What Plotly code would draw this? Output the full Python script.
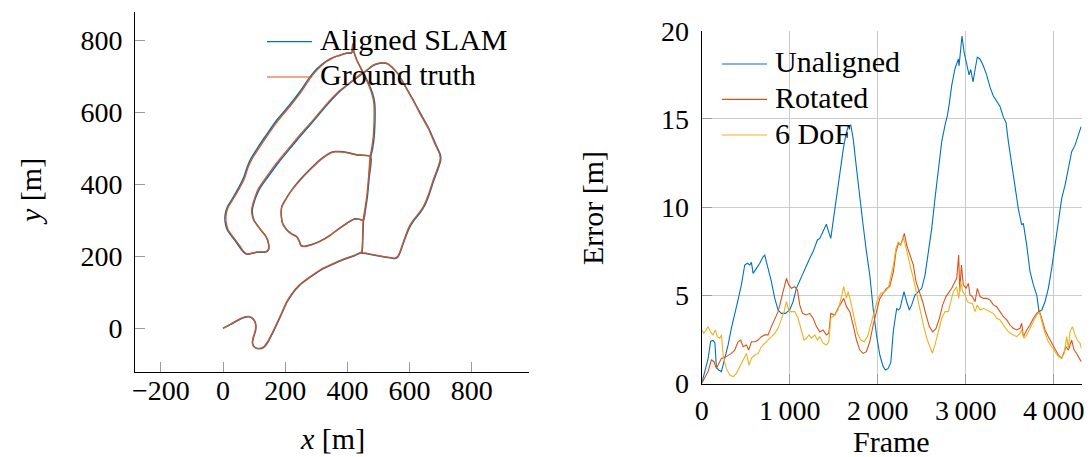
import plotly.graph_objects as go

# ---------------- trajectory (metres) ----------------
gt_x = [0, 25, 50, 68, 82, 95, 104, 104, 97, 94, 100, 114, 130, 143, 157, 172, 188, 205, 222, 245, 275, 312, 350, 387, 420, 442,
        462, 505, 540, 553, 562, 570, 580, 596, 612, 630, 644, 660, 676, 690, 698, 697, 680, 660, 633, 610, 580, 565, 548, 530, 515, 498, 483, 462,
        440, 410, 376, 330, 290, 250, 215, 175, 140, 115, 103, 92, 94, 98, 118, 138, 146, 146, 138, 110, 85, 76,
        65, 55, 44, 30, 17, 10, 10, 17, 30, 44, 60, 71, 80, 92, 115, 140, 175, 215, 250, 280, 305, 333, 355, 376, 398, 414, 417,
        420, 430, 451, 466, 478, 485, 486, 485, 483, 478, 473, 468, 462, 456, 451,
        440, 424, 400, 376, 345, 312, 285, 258, 250, 246, 237, 220, 205, 192, 189, 187, 189, 200, 215, 245, 280, 310, 344, 360, 376, 400, 430, 473,
        468, 462, 456, 451, 449, 446, 442]
gt_y = [0, 12, 24, 31, 33, 28, 14, -5, -25, -40, -51, -56, -52, -38, -15, 12, 42, 74, 97, 120, 140, 162, 178, 192, 202, 210,
        208, 201, 196, 195, 200, 215, 240, 278, 301, 320, 338, 370, 412, 445, 467, 482, 515, 555, 597, 635, 681, 705, 722, 735, 738, 736, 731, 717,
        704, 684, 661, 620, 579, 540, 504, 462, 421, 390, 365, 329, 312, 301, 277, 255, 235, 220, 213, 212, 207, 207,
        215, 228, 241, 257, 273, 295, 315, 337, 355, 375, 400, 421, 445, 468, 500, 532, 575, 616, 655, 694, 720, 741, 752, 759, 765, 766, 790,
        770, 745, 708, 680, 653, 625, 597, 560, 532, 500, 477, 420, 365, 330, 301,
        302, 303, 292, 278, 258, 241, 232, 227, 230, 240, 254, 262, 273, 290, 301, 320, 337, 355, 376, 408, 440, 465, 486, 490, 490, 487, 481, 477,
        420, 365, 330, 301, 260, 213, 210]

slam_x = [0, 25, 50, 68, 82, 96, 105, 105, 98, 95, 101, 115, 131, 144, 158, 173, 189, 206, 223, 246, 276, 313, 351, 388, 421, 443,
          463, 506, 541, 554, 563, 571, 581, 598, 614, 632, 646, 662, 678, 692, 700, 699, 682, 662, 635, 611, 581, 565, 548, 530, 515, 498, 483, 462,
          440, 410, 377, 332, 292, 253, 218, 178, 143, 118, 105, 94, 96, 100, 119, 139, 147, 147, 138, 110, 84, 75,
          63, 52, 41, 27, 14, 7, 7, 14, 27, 41, 57, 68, 77, 89, 112, 137, 172, 212, 247, 277, 302, 330, 353, 375, 397, 414, 417,
          421, 431, 453, 469, 481, 488, 489, 488, 486, 481, 475, 470, 464, 458, 452,
          440, 424, 400, 376, 345, 312, 285, 258, 250, 246, 237, 220, 205, 192, 189, 187, 189, 200, 215, 244, 279, 309, 344, 360, 376, 400, 430, 475,
          470, 464, 458, 452, 450, 447, 442]
slam_y = [0, 11, 23, 30, 32, 27, 13, -6, -26, -41, -52, -57, -53, -39, -16, 11, 41, 73, 96, 119, 139, 161, 177, 191, 201, 209,
          207, 200, 195, 194, 199, 214, 239, 277, 300, 319, 337, 369, 411, 444, 467, 482, 515, 555, 597, 635, 680, 704, 721, 734, 737, 735, 730, 716,
          702, 682, 659, 618, 577, 538, 502, 460, 419, 388, 363, 328, 311, 300, 276, 254, 234, 219, 212, 211, 206, 206,
          214, 227, 241, 257, 273, 295, 315, 337, 355, 376, 401, 422, 446, 470, 502, 534, 577, 618, 657, 695, 721, 741, 752, 758, 764, 765, 789,
          769, 744, 707, 679, 652, 624, 596, 559, 531, 499, 476, 419, 364, 329, 300,
          303, 304, 293, 279, 259, 242, 233, 228, 231, 241, 255, 263, 274, 291, 302, 321, 338, 356, 377, 409, 441, 466, 487, 491, 491, 488, 482, 477,
          419, 364, 329, 300, 259, 212, 209]

# ---------------- per-frame error (metres) ----------------
unaligned_f = [0, 30, 72, 102, 129, 150, 167, 193, 224, 262, 300, 337, 375, 413, 451, 489, 519, 546, 565, 584, 622, 660, 697, 716,
               754, 792, 830, 868, 906, 951, 1000, 1038, 1076, 1133, 1171, 1228, 1266, 1315, 1342, 1380, 1417, 1436, 1467, 1493,
               1531, 1569, 1607, 1637, 1664, 1694, 1721, 1759, 1796, 1834, 1872, 1910, 1948, 1986, 2024, 2062, 2088, 2119, 2149,
               2178, 2216, 2235, 2254, 2299, 2329, 2360, 2386, 2424, 2462, 2500, 2538, 2576, 2614, 2651, 2689, 2727, 2765, 2792,
               2814, 2841, 2879, 2917, 2924, 2943, 2958, 2981, 3011, 3038, 3057, 3083, 3110, 3132, 3163, 3201, 3238, 3276, 3314,
               3352, 3390, 3428, 3458, 3485, 3523, 3560, 3598, 3636, 3655, 3693, 3731, 3769, 3807, 3833, 3864, 3901, 3939, 3977,
               4015, 4053, 4091, 4129, 4167, 4204, 4242, 4280, 4311]
unaligned_e = [0.0, 0.6, 1.4, 2.4, 2.45, 2.3, 0.9, 0.77, 0.68, 1.43, 2.19, 3.13, 3.89, 4.74, 5.59, 6.72, 6.82, 6.72, 6.87, 6.25, 6.53, 6.82, 7.19, 7.28,
               6.53, 5.78, 4.83, 4.17, 3.98, 3.98, 4.17, 4.64, 5.40, 6.06, 6.44, 7.10, 7.48, 8.14, 8.23, 8.61, 9.03, 8.7, 8.23, 9.18,
               10.59, 12.0, 13.23, 14.08, 14.56, 14.65, 13.9, 12.2, 10.5, 8.99, 7.48, 6.15, 4.27, 2.76, 1.62, 0.96, 0.77, 0.86, 1.2,
               3.0, 4.27, 4.17, 4.27, 5.21, 4.64, 4.17, 4.46, 5.02, 5.21, 5.40, 6.15, 7.48, 8.80, 10.5, 12.2, 13.7, 14.65, 15.2,
               15.87, 16.9, 17.86, 18.4, 18.0, 19.2, 19.7, 18.8, 18.05, 17.5, 17.8, 17.1, 17.9, 18.5, 18.4, 18.0, 17.5, 16.8, 16.3,
               16.0, 15.7, 15.1, 14.8, 13.7, 12.4, 11.0, 9.9, 8.99, 9.08, 7.85, 6.34, 5.59, 5.02, 4.08, 4.17, 4.64, 5.40, 6.53,
               7.85, 9.18, 10.5, 11.25, 12.2, 13.14, 13.5, 14.08, 14.56]

rotated_f = [0, 30, 72, 110, 140, 167, 186, 224, 280, 337, 375, 413, 443, 470, 508, 534, 565, 603, 641, 678, 716, 754, 792, 830,
             868, 906, 936, 963, 989, 1019, 1057, 1088, 1114, 1145, 1190, 1228, 1266, 1304, 1342, 1380, 1417, 1444, 1467, 1512,
             1550, 1588, 1614, 1645, 1683, 1721, 1759, 1796, 1834, 1872, 1910, 1948, 1986, 2024, 2062, 2100, 2137, 2178, 2208,
             2235, 2261, 2292, 2303, 2329, 2367, 2405, 2435, 2473, 2511, 2549, 2587, 2625, 2663, 2701, 2738, 2776, 2814, 2841,
             2879, 2898, 2920, 2932, 2951, 2973, 3004, 3030, 3049, 3076, 3106, 3132, 3163, 3201, 3238, 3276, 3314, 3352, 3390,
             3428, 3466, 3504, 3541, 3579, 3617, 3636, 3655, 3693, 3731, 3769, 3807, 3837, 3864, 3901, 3939, 3977, 4015, 4053,
             4091, 4110, 4140, 4167, 4204, 4231, 4261, 4291, 4314]
rotated_e = [0.0, 0.3, 0.68, 1.34, 1.24, 0.86, 1.05, 1.43, 1.53, 1.71, 1.90, 2.37, 2.47, 2.09, 2.19, 1.90, 2.37, 2.37, 2.47, 2.66, 2.76, 2.76, 3.23, 3.61,
             4.08, 4.83, 5.40, 5.97, 5.59, 5.40, 5.49, 5.3, 4.46, 3.98, 3.89, 3.98, 3.70, 3.23, 2.93, 3.04, 2.76, 2.85, 3.98, 3.89,
             4.27, 4.64, 4.83, 4.36, 4.08, 3.32, 2.47, 1.90, 1.71, 1.81, 2.37, 3.32, 4.17, 4.83, 5.12, 5.40, 5.5, 6.34, 7.48,
             7.95, 7.85, 8.42, 8.51, 7.85, 7.29, 6.72, 5.78, 5.21, 4.64, 3.89, 3.23, 2.93, 3.13, 3.70, 4.46, 4.93, 5.21, 5.4,
             5.78, 5.97, 7.29, 5.21, 6.72, 5.59, 5.40, 5.68, 5.02, 4.93, 4.64, 5.40, 4.93, 4.83, 4.83, 4.74, 4.46, 4.36, 4.08,
             3.79, 3.61, 3.32, 3.13, 3.04, 3.13, 3.42, 2.66, 3.04, 3.32, 3.70, 3.98, 4.12, 3.70, 3.04, 2.66, 2.29, 1.90, 1.62,
             1.43, 1.71, 2.09, 1.90, 2.47, 1.90, 1.71, 1.43, 1.24]

dof6_f = [0, 25, 50, 72, 100, 129, 155, 177, 205, 224, 243, 280, 318, 356, 394, 432, 470, 508, 538, 565, 603, 641, 678, 716,
          754, 792, 830, 868, 906, 936, 963, 989, 1019, 1057, 1095, 1133, 1163, 1190, 1220, 1247, 1285, 1315, 1342, 1380, 1417,
          1444, 1467, 1512, 1550, 1588, 1614, 1645, 1664, 1694, 1732, 1770, 1808, 1846, 1884, 1921, 1959, 1997, 2035, 2081,
          2119, 2157, 2178, 2208, 2235, 2261, 2292, 2310, 2337, 2367, 2405, 2443, 2481, 2519, 2557, 2595, 2621, 2651, 2689,
          2727, 2765, 2803, 2830, 2860, 2898, 2920, 2943, 2966, 2992, 3019, 3049, 3076, 3106, 3132, 3163, 3201, 3238, 3276,
          3314, 3352, 3390, 3428, 3466, 3504, 3541, 3579, 3617, 3636, 3662, 3693, 3731, 3769, 3807, 3837, 3864, 3901, 3939,
          3977, 4015, 4053, 4091, 4118, 4148, 4167, 4185, 4212, 4242, 4269, 4299, 4314]
dof6_e = [3.04, 2.85, 3.04, 3.23, 2.93, 2.76, 3.04, 2.66, 2.57, 2.76, 1.62, 0.86, 0.49, 0.39, 0.58, 0.96, 1.34, 1.71, 1.05, 1.43, 1.62, 1.71, 2.09, 2.29,
          2.47, 2.66, 2.85, 3.13, 3.70, 4.08, 4.64, 4.17, 4.08, 4.08, 3.70, 2.93, 2.47, 2.57, 2.76, 2.57, 2.76, 2.47, 2.66, 2.29, 2.19,
          2.37, 3.70, 3.89, 4.17, 4.93, 5.49, 4.83, 5.21, 4.64, 3.70, 2.85, 2.47, 2.37, 2.66, 3.32, 4.08, 4.74, 5.12, 5.21,
          5.40, 6.25, 6.72, 7.67, 8.04, 7.85, 8.23, 7.95, 7.29, 6.72, 5.97, 5.02, 4.08, 3.32, 2.57, 2.00, 1.71, 2.19, 2.93,
          3.70, 4.08, 4.08, 4.64, 5.21, 5.49, 4.83, 5.78, 5.21, 5.02, 4.64, 4.55, 4.55, 4.08, 4.46, 4.17, 4.27, 4.17, 4.08,
          3.98, 3.70, 3.61, 3.32, 3.04, 2.85, 2.76, 2.66, 2.85, 3.04, 2.57, 2.76, 3.13, 3.51, 3.89, 4.04, 3.51, 2.85, 2.37,
          2.09, 1.81, 1.53, 1.43, 1.71, 2.66, 2.0, 2.93, 3.23, 2.76, 2.47, 2.29, 2.00]

# ---------------- styling ----------------
BLUE = "#0072BD"
RED = "#D95319"
YELLOW = "#EDB120"
FONT = "Liberation Serif"
TICK_SIZE = 28
TEXT_SIZE = 30
W, H = 1092, 457


def px(x):
    return x / W


def py(y):
    return (H - y) / H


fig = go.Figure()

fig.add_trace(go.Scatter(x=slam_x, y=slam_y, mode="lines", name="Aligned SLAM",
                         line=dict(color=BLUE, width=1.5, shape="spline", smoothing=0.6),
                         xaxis="x", yaxis="y", showlegend=False))
fig.add_trace(go.Scatter(x=gt_x, y=gt_y, mode="lines", name="Ground truth",
                         line=dict(color=RED, width=1.3, shape="spline", smoothing=0.6),
                         xaxis="x", yaxis="y", showlegend=False))

fig.add_trace(go.Scatter(x=unaligned_f, y=unaligned_e, mode="lines", name="Unaligned",
                         line=dict(color=BLUE, width=1.1), xaxis="x2", yaxis="y2", showlegend=False))
fig.add_trace(go.Scatter(x=rotated_f, y=rotated_e, mode="lines", name="Rotated",
                         line=dict(color=RED, width=1.1), xaxis="x2", yaxis="y2", showlegend=False))
fig.add_trace(go.Scatter(x=dof6_f, y=dof6_e, mode="lines", name="6 DoF",
                         line=dict(color=YELLOW, width=1.1), xaxis="x2", yaxis="y2", showlegend=False))

tickfont = dict(family=FONT, size=TICK_SIZE, color="black")
common = dict(showline=True, linecolor="black", linewidth=1, ticks="inside", ticklen=10,
              tickcolor="#9a9a9a", tickwidth=1, tickfont=tickfont, zeroline=False, mirror=False,
              automargin=False)

xt_left = [-200, 0, 200, 400, 600, 800]
yt_left = [0, 200, 400, 600, 800]
xt_right = [0, 1000, 2000, 3000, 4000]
yt_right = [0, 5, 10, 15, 20]

fig.update_layout(
    width=W, height=H, margin=dict(l=0, r=0, t=0, b=0, autoexpand=False),
    paper_bgcolor="white", plot_bgcolor="white",
    font=dict(family=FONT, color="black"),
    xaxis=dict(domain=[px(135), px(529)], range=[-283, 984], anchor="y",
               tickvals=xt_left, ticktext=[("\u2212" + str(-v)) if v < 0 else str(v) for v in xt_left],
               showgrid=False, ticklabelstandoff=-6, **common),
    yaxis=dict(domain=[py(371.7), py(12)], range=[-120.6, 878.6], anchor="x",
               tickvals=yt_left, ticktext=[str(v) for v in yt_left],
               showgrid=False, ticklabelstandoff=6, **common),
    xaxis2=dict(domain=[px(701.7), px(1081.7)], range=[0, 4318], anchor="y2",
                tickvals=xt_right, ticktext=[f"{v:,}".replace(",", "\u2009") for v in xt_right],
                showgrid=True, gridcolor="#cccccc", gridwidth=1, ticklabelstandoff=2, **common),
    yaxis2=dict(domain=[py(383.6), py(30.7)], range=[0, 20], anchor="x2",
                tickvals=yt_right, ticktext=[str(v) for v in yt_right],
                showgrid=True, gridcolor="#cccccc", gridwidth=1, ticklabelstandoff=6, **common),
)

textfont = dict(family=FONT, size=TEXT_SIZE, color="black")
annotations = [
    dict(text="<i>x</i> [m]", x=px(332), y=py(438), textangle=0),
    dict(text="<i>y</i> [m]", x=px(30), y=py(192), textangle=-90),
    dict(text="Error [m]", x=px(592), y=py(208), textangle=-90),
    dict(text="Frame", x=px(891.7), y=py(441), textangle=0),
]
for a in annotations:
    fig.add_annotation(xref="paper", yref="paper", showarrow=False, xanchor="center", yanchor="middle",
                       font=textfont, **a)

# legends
legend_left = [("Aligned SLAM", BLUE, 41.7), ("Ground truth", RED, 77.0)]
legend_right = [("Unaligned", BLUE, 64.0), ("Rotated", RED, 99.3), ("6 DoF", YELLOW, 135.0)]
for items, x0, x1, xt in [(legend_left, 267, 312, 318), (legend_right, 722, 767, 773)]:
    for label, color, yl in items:
        fig.add_shape(type="line", xref="paper", yref="paper", x0=px(x0), x1=px(x1), y0=py(yl), y1=py(yl),
                      line=dict(color=color, width=1.2))
        fig.add_annotation(xref="paper", yref="paper", x=px(xt), y=py(yl - 2), xanchor="left", yanchor="middle",
                           showarrow=False, text=label, font=textfont)

fig.write_html("out.html")
